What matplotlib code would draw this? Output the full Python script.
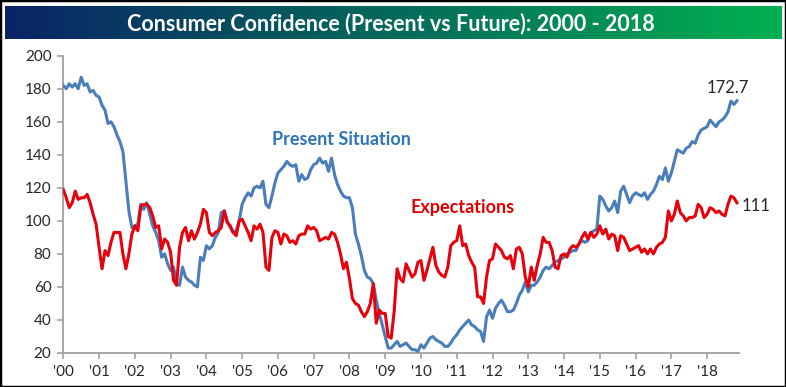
import numpy as np
import matplotlib
matplotlib.use("Agg")
import matplotlib.pyplot as plt
from matplotlib.patches import Rectangle

# ---------------- data (monthly, Jan 2000 - Nov 2018) ----------------
start_year = 2000
present = [
    182, 180, 183, 181, 183, 180, 187, 182, 183, 178, 179, 176,   # 2000
    175, 170, 167, 159, 160, 157, 152, 148, 142, 124, 106, 96,    # 2001
    97, 98, 110, 107, 111, 104, 97, 93, 88, 78, 80, 74,           # 2002
    70, 72, 62, 61, 72, 66, 64, 63, 61, 60, 78, 76,               # 2003
    85, 83, 85, 90, 93, 105, 106, 100, 96, 93, 94, 100,           # 2004
    110, 114, 117, 115, 120, 121, 120, 124, 110, 108, 115, 123,   # 2005
    129, 131, 133, 136, 134, 133, 134, 124, 128, 125, 126, 131,   # 2006
    134, 135, 138, 135, 136, 130, 138, 128, 122, 118, 115, 114,   # 2007
    114, 108, 92, 86, 79, 70, 66, 65, 62, 52, 44, 37,             # 2008
    30, 23, 23, 25, 27, 24, 25, 26, 24, 22, 22, 21,               # 2009
    25, 23, 26, 29, 30, 28, 27, 26, 24, 24, 26, 29,               # 2010
    31, 34, 36, 38, 40, 37, 36, 34, 33, 27, 42, 46,               # 2011
    41, 47, 50, 52, 49, 45, 45, 46, 50, 55, 58, 63,               # 2012
    57, 61, 61, 63, 66, 70, 72, 71, 73, 75, 76, 77,               # 2013
    78, 80, 81, 82, 82, 86, 88, 87, 88, 93, 94, 95,               # 2014
    115, 113, 109, 106, 108, 112, 105, 118, 121, 116, 111, 115,   # 2015
    117, 116, 115, 117, 113, 116, 118, 122, 127, 125, 132, 124,   # 2016
    129, 136, 143, 142, 141, 144, 145, 148, 147, 152, 155, 156,   # 2017
    157, 161, 159, 157, 160, 161, 163, 166, 172.5, 170.5, 172.7,  # 2018
]
expectations = [
    119, 114, 108, 111, 118, 113, 114, 114, 116, 111, 104, 98,    # 2000
    84, 71, 82, 79, 87, 93, 93, 93, 80, 71, 80, 92,               # 2001
    97, 94, 109, 110, 110, 108, 103, 96, 97, 83, 89, 87,          # 2002
    81, 64, 61, 84, 93, 96, 88, 94, 89, 93, 98, 107,              # 2003
    105, 93, 91, 93, 94, 96, 106, 99, 97, 93, 91, 100,            # 2004
    101, 97, 93, 88, 97, 95, 98, 93, 72, 70, 90, 94,              # 2005
    93, 86, 92, 91, 87, 88, 86, 91, 92, 92, 97, 95,               # 2006
    96, 94, 88, 89, 90, 89, 93, 92, 87, 80, 71, 75,               # 2007
    65, 53, 50, 49, 45, 42, 45, 50, 62, 38, 46, 44,               # 2008
    44, 30, 29, 45, 71, 65, 63, 74, 70, 66, 68, 75,               # 2009
    76, 64, 70, 77, 84, 73, 69, 67, 66, 72, 85, 87,               # 2010
    88, 97, 85, 86, 79, 75, 72, 54, 54, 50, 66, 76,               # 2011
    77, 86, 84, 82, 78, 77, 79, 71, 83, 84, 80, 66,               # 2012
    60, 72, 64, 73, 80, 90, 87, 87, 82, 72, 71, 79,               # 2013
    80, 78, 83, 85, 84, 86, 90, 93, 89, 93, 90, 92,               # 2014
    97, 92, 95, 89, 92, 91, 82, 91, 90, 86, 82, 83,               # 2015
    84, 85, 81, 83, 80, 83, 80, 84, 86, 87, 90, 106,              # 2016
    100, 104, 112, 105, 103, 100, 102, 102, 103, 110, 108, 102,   # 2017
    104, 108, 107, 105, 106, 104, 103, 110, 115, 114, 111,        # 2018
]
year_ticks = list(range(2000, 2019))
year_labels = ["'%02d" % (y % 100) for y in year_ticks]
y_ticks = [20, 40, 60, 80, 100, 120, 140, 160, 180, 200]

title = "Consumer Confidence (Present vs Future): 2000 - 2018"

# ---------------- figure ----------------
W, H = 786, 387
fig = plt.figure(figsize=(W / 100, H / 100), dpi=100)
fig.patch.set_facecolor("white")

FONT = ["Lato", "DejaVu Sans"]

# title bar with gradient
bx0, bx1, by0, by1 = 5, 781, 6, 39
tax = fig.add_axes([bx0 / W, 1 - by1 / H, (bx1 - bx0) / W, (by1 - by0) / H])
c_left = np.array([10, 36, 102]) / 255
c_right = np.array([0, 176, 80]) / 255
t = np.linspace(0, 1, 400)
grad = (c_left[None, :] * (1 - t[:, None]) + c_right[None, :] * t[:, None])[None, :, :]
tax.imshow(grad, aspect="auto", extent=[0, 1, 0, 1])
tax.set_xlim(0, 1)
tax.set_ylim(0, 1)
tax.axis("off")
tax.text(0.497, 0.47, title, color="white", fontsize=15.5, fontweight="bold",
         family=FONT, ha="center", va="center")

# main axes
ax_l, ax_r, ax_t, ax_b = 63.3, 739.3, 55.7, 353.0
ax = fig.add_axes([ax_l / W, 1 - ax_b / H, (ax_r - ax_l) / W, (ax_b - ax_t) / H])

x_p = start_year + np.arange(len(present)) / 12.0
x_e = start_year + np.arange(len(expectations)) / 12.0

ax.plot(x_p, present, color="#4A7EBB", lw=2.2, solid_joinstyle="round", zorder=3)
ax.plot(x_e, expectations, color="#E8000B", lw=2.2, solid_joinstyle="round", zorder=4)

ax.set_xlim(2000, 2018.9)
ax.set_ylim(20, 200)
ax.set_yticks(y_ticks)
ax.set_xticks(year_ticks)
ax.set_xticklabels(year_labels)

for s in ["top", "right"]:
    ax.spines[s].set_visible(False)
for s in ["left", "bottom"]:
    ax.spines[s].set_color("#A0A0A0")
    ax.spines[s].set_linewidth(1.3)

ax.tick_params(axis="both", direction="out", length=4.5, width=1.2, color="#A0A0A0",
               labelsize=11, labelcolor="#262626", pad=4)
for lab in ax.get_xticklabels() + ax.get_yticklabels():
    lab.set_family(FONT)

# annotations
ax.text(2005.83, 149.5, "Present Situation", color="#2E75B6", fontsize=13,
        fontweight="bold", family=FONT, ha="left", va="center")
ax.text(2009.71, 108.3, "Expectations", color="#E00000", fontsize=13,
        fontweight="bold", family=FONT, ha="left", va="center")
ax.text(present[-1] * 0 + x_p[-1] - 0.85, 180.6, "%.1f" % present[-1], color="#262626",
        fontsize=12, family=FONT, ha="left", va="center")
ax.text(x_e[-1] + 0.12, 109.0, "%g" % expectations[-1], color="#262626",
        fontsize=12, family=FONT, ha="left", va="center")

# outer frame
fig.add_artist(Rectangle((0, 0), 1, 1, transform=fig.transFigure, fill=False,
                         edgecolor="black", lw=2.5))

fig.savefig("out.png", dpi=100)
